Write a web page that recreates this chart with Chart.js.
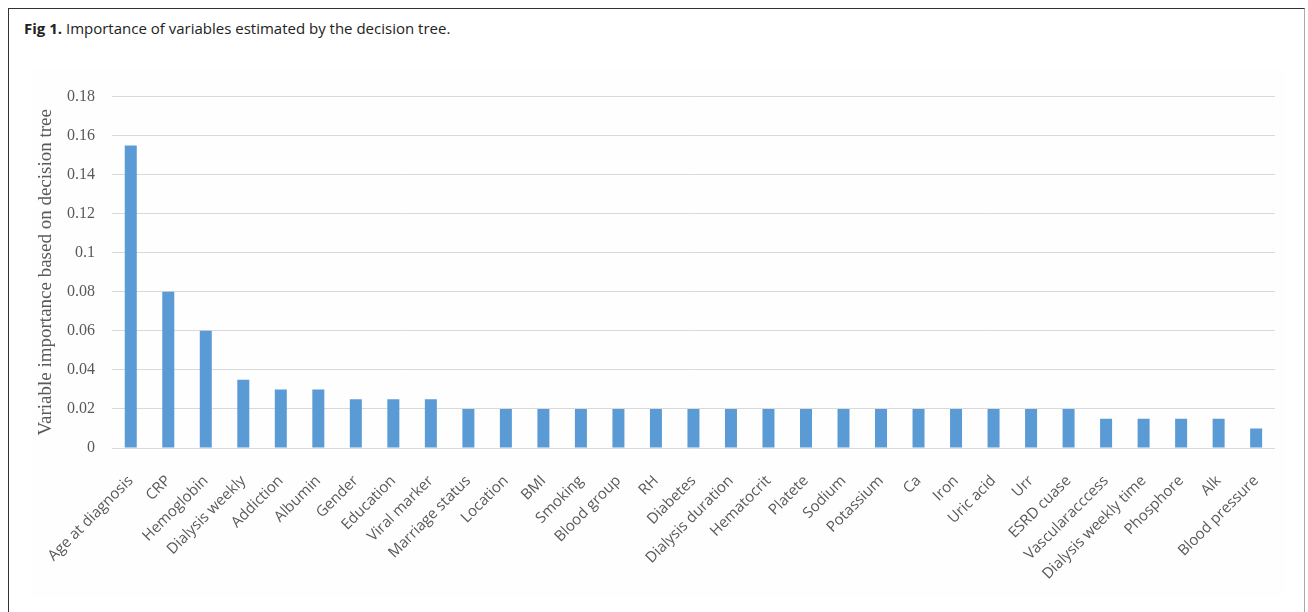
<!DOCTYPE html>
<html>
<head>
<meta charset="utf-8">
<script src="https://cdn.jsdelivr.net/npm/chart.js@4.4.1/dist/chart.umd.min.js"></script>
<style>
  html, body { margin: 0; padding: 0; background: #ffffff; }
  body { width: 1308px; height: 612px; overflow: hidden; position: relative; }
  #frame {
    position: absolute; left: 8px; top: 8px; width: 1297px; height: 640px;
    border-left: 1px solid #333; border-top: 1px solid #333; border-right: 1px solid #aaa;
    box-sizing: border-box;
  }
  #caption {
    position: absolute; left: 24px; top: 18px;
    font-family: "Open Sans", "Noto Sans", sans-serif; font-size: 15px; color: #222;
    white-space: nowrap;
  }
  #caption b { font-weight: 700; }
  #wrap { position: absolute; left: 32px; top: 70px; width: 1253px; height: 528px; background: #fefefe; }
</style>
</head>
<body>
<div id="frame"></div>
<div id="caption"><b>Fig 1.</b> Importance of variables estimated by the decision tree.</div>
<div id="wrap"><canvas id="c" width="1253" height="528"></canvas></div>
<script>
const categories = [
  "Age at diagnosis", "CRP", "Hemoglobin", "Dialysis weekly", "Addiction", "Albumin",
  "Gender", "Education", "Viral marker", "Marriage status", "Location", "BMI", "Smoking",
  "Blood group", "RH", "Diabetes", "Dialysis duration", "Hematocrit", "Platete", "Sodium",
  "Potassium", "Ca", "Iron", "Uric acid", "Urr", "ESRD cuase", "Vascularacccess",
  "Dialysis weekly time", "Phosphore", "Alk", "Blood pressure"
];
const importance = [
  0.155, 0.08, 0.06, 0.035, 0.03, 0.03,
  0.025, 0.025, 0.025, 0.02, 0.02, 0.02, 0.02,
  0.02, 0.02, 0.02, 0.02, 0.02, 0.02, 0.02,
  0.02, 0.02, 0.02, 0.02, 0.02, 0.02, 0.015,
  0.015, 0.015, 0.015, 0.01
];
const yTickValues = [0, 0.02, 0.04, 0.06, 0.08, 0.1, 0.12, 0.14, 0.16, 0.18];
const yTickLabels = ["0", "0.02", "0.04", "0.06", "0.08", "0.1", "0.12", "0.14", "0.16", "0.18"];
const yTitle = "Variable importance based on decision tree";

new Chart(document.getElementById("c"), {
  type: "bar",
  data: {
    labels: categories,
    datasets: [{
      data: importance,
      backgroundColor: "#5b9bd5",
      borderWidth: 0,
      barPercentage: 0.32,
      categoryPercentage: 1.0
    }]
  },
  options: {
    responsive: false,
    devicePixelRatio: 1,
    animation: false,
    layout: { padding: { top: 22, right: 8, left: 0, bottom: 0 } },
    plugins: { legend: { display: false }, tooltip: { enabled: false } },
    scales: {
      x: {
        grid: { display: false },
        border: { display: false },
        ticks: {
          autoSkip: false, maxRotation: 45, minRotation: 45,
          color: "#595959", padding: 16,
          font: { family: "'Open Sans', 'Noto Sans', sans-serif", size: 15 }
        },
        afterFit: (axis) => { axis.height = 150; }
      },
      y: {
        min: 0, max: 0.18,
        grid: { color: "#d9d9d9", lineWidth: 1, drawTicks: false },
        border: { display: false },
        afterBuildTicks: (axis) => { axis.ticks = yTickValues.map(v => ({ value: v })); },
        ticks: {
          color: "#595959", padding: 17,
          font: { family: "'Liberation Serif', 'DejaVu Serif', serif", size: 16 },
          callback: (v, i) => yTickLabels[i]
        },
        title: {
          display: true, text: yTitle, color: "#595959",
          padding: { top: 3, bottom: 0 },
          font: { family: "'Liberation Serif', 'DejaVu Serif', serif", size: 19 }
        },
        afterFit: (axis) => { axis.width = 80; }
      }
    }
  }
});
</script>
</body>
</html>
